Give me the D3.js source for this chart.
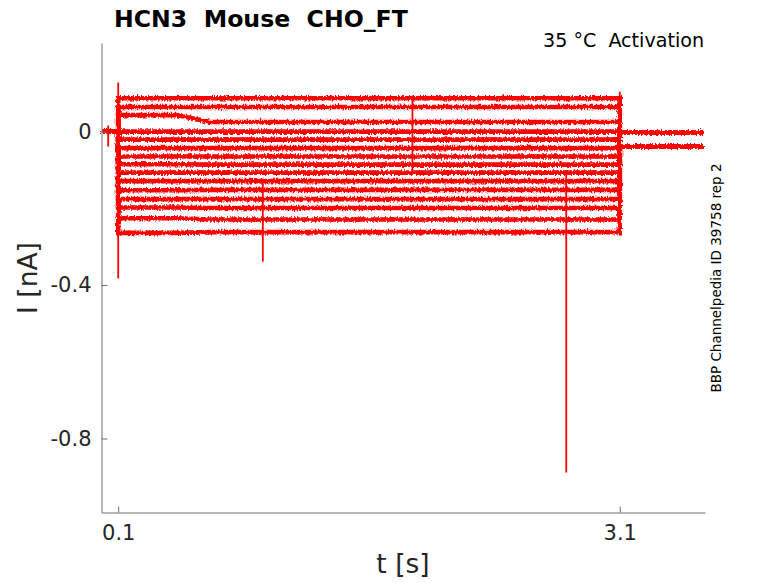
<!DOCTYPE html>
<html>
<head>
<meta charset="utf-8">
<script src="https://cdn.jsdelivr.net/npm/d3@7"></script>
<style>
  body { margin: 0; background: #fff; }
  text { font-family: "DejaVu Sans", sans-serif; fill: #262626; }
</style>
</head>
<body>
<svg width="778" height="583"></svg>
<script>

// current levels of each sweep (nA)
var stepStart = [0.087, 0.064, 0.043, 0.000, -0.021, -0.043, -0.065, -0.085, -0.107, -0.129, -0.153, -0.176, -0.198, -0.226, -0.264];
var stepEnd   = [0.087, 0.064, 0.025, 0.000, -0.021, -0.043, -0.065, -0.086, -0.107, -0.129, -0.152, -0.176, -0.199, -0.229, -0.262];
var tailLevel = [-0.002, -0.002, -0.002, -0.002, -0.002, -0.002, -0.002, -0.002, -0.039, -0.039, -0.039, -0.039, -0.039, -0.039, -0.039];
var holdLevel = 0;

// sample times of every sweep (s): hold, step on, drift, step off, end
var sweepTimes = [0, 0.1, 0.1, 0.45, 0.65, 3.1, 3.1, 3.6];

// capacitive transients and artefacts (thin spikes)
var spikeT  = [0.1, 3.1, 0.04, 0.965, 1.86, 2.78];
var spikeLo = [-0.383, -0.271, -0.039, -0.339, -0.107, -0.889];
var spikeHi = [0.128, 0.104, 0.016, -0.129, 0.094, -0.100];

var xTicks = [0.1, 3.1];
var yTicks = [0, -0.4, -0.8];

var svg = d3.select('svg');

var scaleX = d3.scaleLinear().domain([0, 3.61]).range([101.5, 705]);
var scaleY = d3.scaleLinear().domain([0.231, -0.993]).range([43, 512.5]);

// recording noise look: a rendering filter on the sweep bands
var defs = svg.append('defs');
var f = defs.append('filter').attr('id', 'noisy')
    .attr('filterUnits', 'userSpaceOnUse')
    .attr('x', 90).attr('y', 60).attr('width', 630).attr('height', 220);
f.append('feTurbulence').attr('type', 'fractalNoise')
    .attr('baseFrequency', '0.7 0.3').attr('numOctaves', 2).attr('seed', 3).attr('result', 'n');
f.append('feDisplacementMap').attr('in', 'SourceGraphic').attr('in2', 'n')
    .attr('scale', 4.5).attr('xChannelSelector', 'R').attr('yChannelSelector', 'G');

var sweeps = stepStart.map(function(s, i){
    var vals = [holdLevel, holdLevel, s, s, stepEnd[i], stepEnd[i], tailLevel[i], tailLevel[i]];
    return sweepTimes.map(function(t, j){ return [t, vals[j]]; });
});

var line = d3.line()
    .x(function(d){ return scaleX(d[0]); })
    .y(function(d){ return scaleY(d[1]); });

var plot = svg.append('g');

plot.append('g')
    .attr('filter', 'url(#noisy)')
    .selectAll('.sweep')
    .data(sweeps)
    .enter()
    .append('path')
    .attr('class', 'sweep')
    .attr('d', line)
    .attr('fill', 'none')
    .attr('stroke', '#ff0000')
    .attr('stroke-width', 4.6);

plot.selectAll('.spike')
    .data(spikeT)
    .enter()
    .append('line')
    .attr('class', 'spike')
    .attr('x1', function(d){ return scaleX(d); })
    .attr('x2', function(d){ return scaleX(d); })
    .attr('y1', function(d, i){ return scaleY(spikeHi[i]); })
    .attr('y2', function(d, i){ return scaleY(spikeLo[i]); })
    .attr('stroke', '#ff0000')
    .attr('stroke-width', 1.8);

// axes, MATLAB style ticks pointing inward
var axisColor = '#6e6e6e';
var fmt = function(d){ return d == 0 ? '0' : d.toFixed(1); };

var gx = svg.append('g')
    .attr('transform', 'translate(0,512.5)')
    .call(d3.axisBottom(scaleX).tickValues(xTicks).tickFormat(fmt)
        .tickSizeInner(-6).tickSizeOuter(0).tickPadding(13));

var gy = svg.append('g')
    .attr('transform', 'translate(101.5,0)')
    .call(d3.axisLeft(scaleY).tickValues(yTicks).tickFormat(fmt)
        .tickSizeInner(-6).tickSizeOuter(0).tickPadding(10));

[gx, gy].forEach(function(g){
    g.select('.domain').attr('stroke', axisColor);
    g.selectAll('.tick line').attr('stroke', axisColor);
    g.selectAll('.tick text').attr('font-size', 21).attr('font-family', '"DejaVu Sans", sans-serif').attr('fill', '#262626');
});

svg.append('text')
    .attr('x', 403).attr('y', 573)
    .attr('text-anchor', 'middle')
    .attr('font-size', 26.5)
    .text('t [s]');

svg.append('text')
    .attr('transform', 'translate(37,278) rotate(-90)')
    .attr('text-anchor', 'middle')
    .attr('font-size', 26.5)
    .text('I [nA]');

svg.append('text')
    .attr('x', 114).attr('y', 27)
    .attr('font-size', 23.6)
    .attr('font-weight', 'bold')
    .style('fill', '#000')
    .style('white-space', 'pre')
    .text('HCN3  Mouse  CHO_FT');

svg.append('text')
    .attr('x', 704).attr('y', 47)
    .attr('text-anchor', 'end')
    .attr('font-size', 19.1)
    .style('fill', '#000')
    .style('white-space', 'pre')
    .text('35 °C  Activation');

svg.append('text')
    .attr('transform', 'translate(721,278) rotate(-90)')
    .attr('text-anchor', 'middle')
    .attr('font-size', 13.5)
    .style('fill', '#000')
    .style('white-space', 'pre')
    .text('BBP Channelpedia ID 39758 rep 2');

</script>
</body>
</html>
